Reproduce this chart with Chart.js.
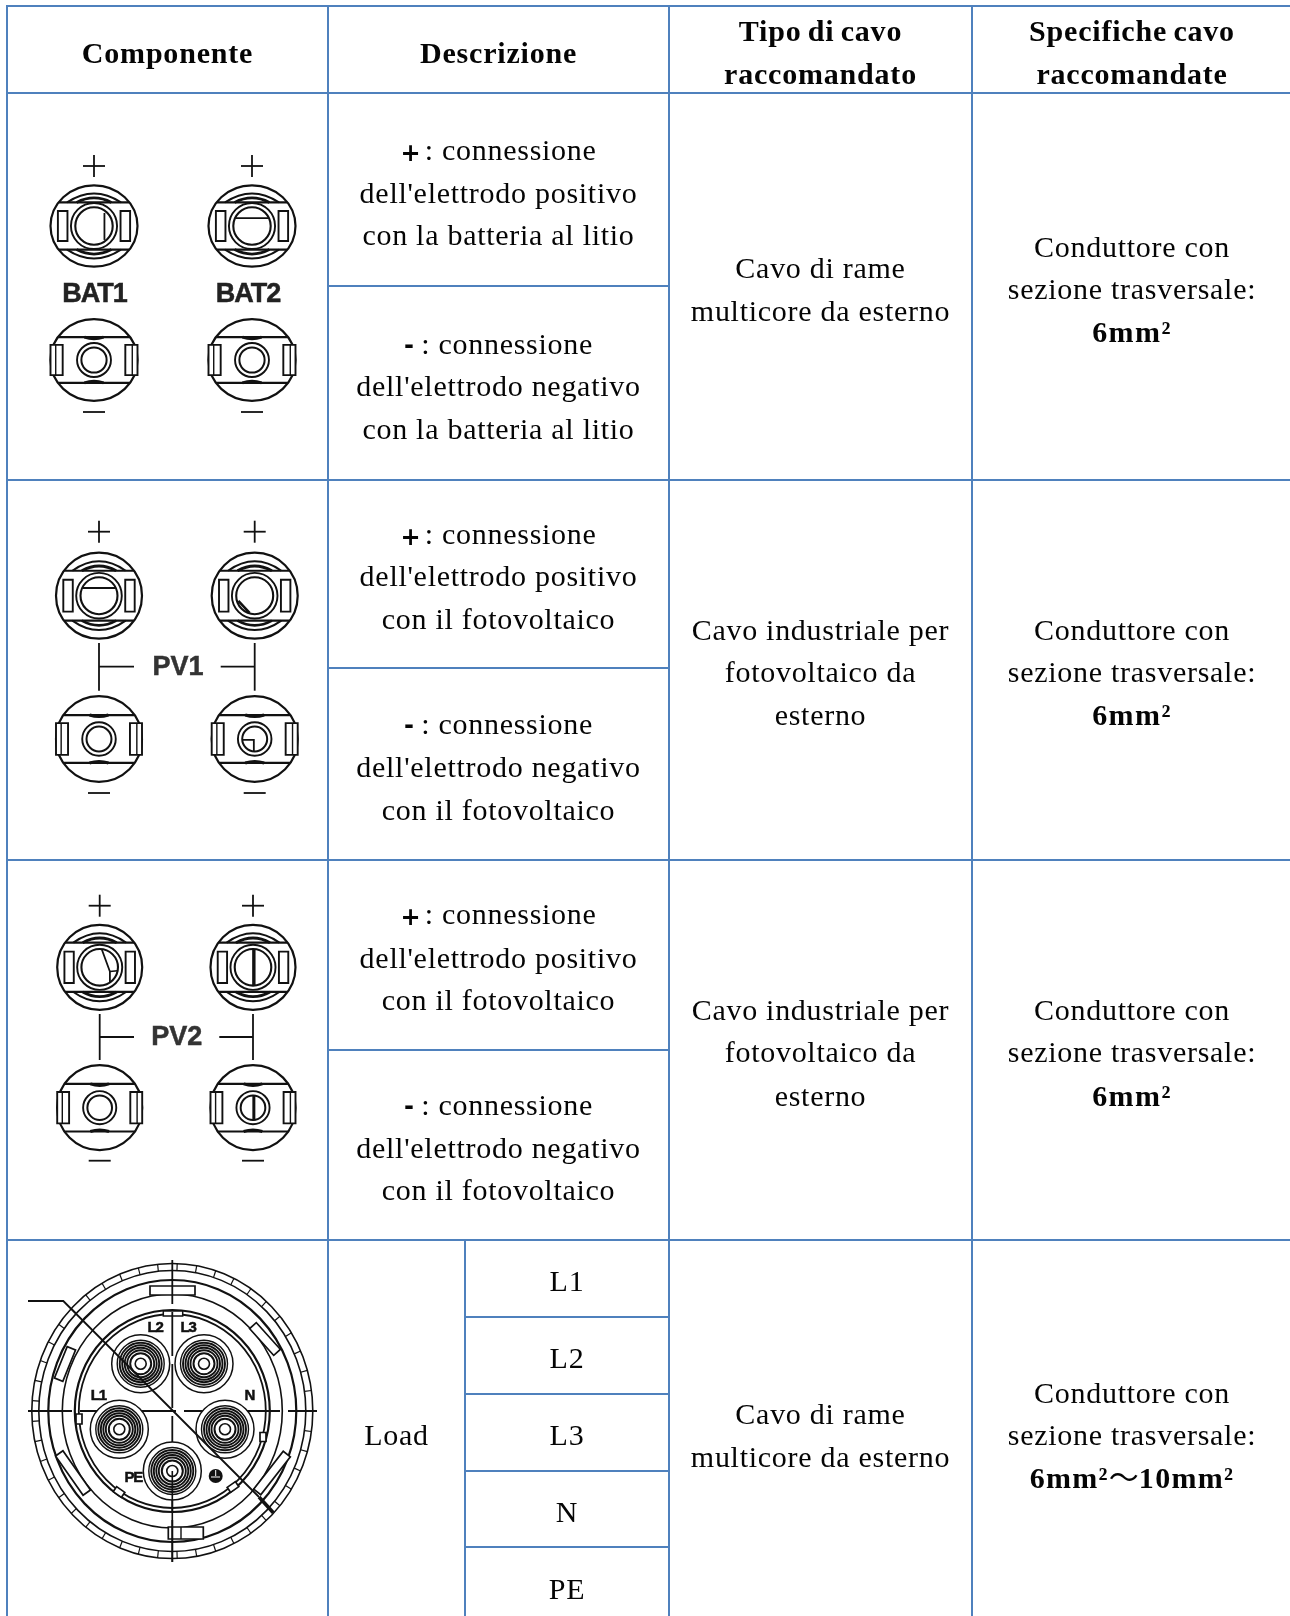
<!DOCTYPE html>
<html><head><meta charset="utf-8">
<style>html,body{margin:0;padding:0;background:#fff}canvas{display:block}</style>
<script src="https://cdn.jsdelivr.net/npm/chart.js@4/dist/chart.umd.min.js"></script>
</head><body><canvas id="c" width="1290" height="1616"></canvas>
<script>
// ---- table text ----
const headerComponente = ["Componente"];
const headerDescrizione = ["Descrizione"];
const headerTipo = ["Tipo di cavo", "raccomandato"];
const headerSpecifiche = ["Specifiche cavo", "raccomandate"];
const descBattery = ["connessione", "dell'elettrodo positivo", "con la batteria al litio", "dell'elettrodo negativo", "con la batteria al litio"];
const descPV = ["connessione", "dell'elettrodo positivo", "con il fotovoltaico", "dell'elettrodo negativo", "con il fotovoltaico"];
const cableCopper = ["Cavo di rame", "multicore da esterno"];
const cablePV = ["Cavo industriale per", "fotovoltaico da", "esterno"];
const specLines = ["Conduttore con", "sezione trasversale:"];
const loadLabel = ["Load"];
const loadPhases = ["L1", "L2", "L3", "N", "PE"];
const specSmall = ["6mm²"];
const specLarge = ["6mm²", "～", "10mm²"];
// ---- table grid, in table units ----
const colEdges = [7, 328, 669, 972];
const subColEdge = 465;
const tableRight = 1290, tableTop = 6, tableBottom = 1616;
const rowEdges = [6, 93, 480, 860, 1240];
const descSplits = [286, 668, 1050];
const phaseSplits = [1317, 1394, 1471, 1547];

const GRID = '#4f81bd';
const seg = (x0, y0, x1, y1) => ({
  data: [{x: x0, y: y0}, {x: x1, y: y1}], showLine: true, borderColor: GRID, borderWidth: 2,
  pointRadius: 0, tension: 0, fill: false, borderCapStyle: 'square', clip: false
});
const datasets = [
  ...colEdges.map(x => seg(x, tableTop, x, tableBottom)),
  seg(subColEdge, rowEdges[4], subColEdge, tableBottom),
  ...rowEdges.map(y => seg(colEdges[0], y, tableRight, y)),
  ...descSplits.map(y => seg(colEdges[1], y, colEdges[2], y)),
  ...phaseSplits.map(y => seg(subColEdge, y, colEdges[2], y))
];

const SERIF = '"Liberation Serif","Noto Sans CJK SC",serif';
const RFONT = '30px ' + SERIF, BFONT = 'bold 30px ' + SERIF;
const RS = 0.72, BS = 0.8, RW = -1.4, BW = -2;
const YOFF = 0.3;

const tablePlugin = {
  id: 'table',
  afterDatasetsDraw(chart) {
    const ctx = chart.ctx, sx = chart.scales.x, sy = chart.scales.y;
    const X = v => sx.getPixelForValue(v), Y = v => sy.getPixelForValue(v);

    function setup(p) {
      ctx.font = p.f || (p.b ? BFONT : RFONT);
      ctx.letterSpacing = (p.ls !== undefined ? p.ls : (p.b ? BS : RS)) + 'px';
      ctx.wordSpacing = (p.b ? BW : RW) + 'px';
    }
    function runs(parts, cx, base) {
      let total = 0;
      parts.forEach(p => { setup(p); p.w = ctx.measureText(p.t).width; total += p.w; });
      let x = X(cx) - total / 2;
      ctx.textAlign = 'left'; ctx.textBaseline = 'alphabetic'; ctx.fillStyle = '#050505';
      parts.forEach(p => {
        setup(p);
        ctx.fillText(p.t, x, Y(base + YOFF + (p.dy || 0))); x += p.w;
      });
      ctx.letterSpacing = '0px'; ctx.wordSpacing = '0px';
    }
    const reg = (t, cx, b) => runs([{t}], cx, b);
    const bold = (t, cx, b) => runs([{t, b: true}], cx, b);
    const SIGN = 'bold 24px "DejaVu Sans"';

    const c0 = (colEdges[0] + colEdges[1]) / 2, c1 = (colEdges[1] + colEdges[2]) / 2,
          c2 = (colEdges[2] + colEdges[3]) / 2, c3 = (colEdges[3] + tableRight) / 2 + 1,
          cL = (colEdges[1] + subColEdge) / 2, cP = (subColEdge + colEdges[2]) / 2;

    bold(headerComponente[0], c0, 62.7);
    bold(headerDescrizione[0], c1, 62.7);
    bold(headerTipo[0], c2, 40.7); bold(headerTipo[1], c2, 83.3);
    bold(headerSpecifiche[0], c3, 40.7); bold(headerSpecifiche[1], c3, 83.3);

    function desc(lines, b) {
      runs([{t: '+', f: SIGN, ls: -4, dy: 1}, {t: ' : ' + lines[0]}], c1, b[0]);
      reg(lines[1], c1, b[1]); reg(lines[2], c1, b[2]);
      runs([{t: '-', f: SIGN, ls: -1, dy: -1}, {t: ' : ' + lines[0]}], c1, b[3]);
      reg(lines[3], c1, b[4]); reg(lines[4], c1, b[5]);
    }
    desc(descBattery, [160, 202.3, 245, 353.3, 395.7, 438.3]);
    desc(descPV, [543.3, 586, 628.3, 734, 776.7, 819.3]);
    desc(descPV, [924, 967.3, 1010, 1115, 1157.3, 1200]);

    reg(cableCopper[0], c2, 277.7); reg(cableCopper[1], c2, 320.7);
    cablePV.forEach((t, i) => reg(t, c2, [639.3, 682, 724.3][i]));
    cablePV.forEach((t, i) => reg(t, c2, [1019.3, 1062, 1106][i]));
    reg(cableCopper[0], c2, 1424); reg(cableCopper[1], c2, 1466.7);

    [[256.7, 298.3, 341.7], [639.3, 682, 724.3], [1019.3, 1062, 1105.3]].forEach(b => {
      reg(specLines[0], c3, b[0]); reg(specLines[1], c3, b[1]);
      runs([{t: specSmall[0], b: true, ls: 1.4}], c3, b[2]);
    });
    reg(specLines[0], c3, 1402.3); reg(specLines[1], c3, 1445);
    runs([{t: specLarge[0], b: true, ls: 1.3}, {t: specLarge[1], ls: 0}, {t: specLarge[2], b: true, ls: 1.3}], c3, 1487.7);

    reg(loadLabel[0], cL, 1444.3);
    loadPhases.forEach((t, i) => reg(t, cP, [1290.7, 1367.7, 1444.3, 1521.7, 1598.3][i]));

    // ---- connector drawings ----
    ctx.save();
    ctx.filter = 'blur(0.6px)';
    ctx.strokeStyle = '#111'; ctx.fillStyle = '#111'; ctx.lineCap = 'butt';
    const line = (pts, w = 1.8) => {
      ctx.lineWidth = w; ctx.beginPath();
      pts.forEach((p, i) => i ? ctx.lineTo(X(p[0]), Y(p[1])) : ctx.moveTo(X(p[0]), Y(p[1])));
      ctx.stroke();
    };
    const ell = (cx, cy, rx, ry, w = 1.8) => {
      ctx.lineWidth = w; ctx.beginPath(); ctx.ellipse(X(cx), Y(cy), rx, ry, 0, 0, Math.PI * 2); ctx.stroke();
    };
    const quad = (x0, y0, qx, qy, x1, y1, w = 1.8) => {
      ctx.lineWidth = w; ctx.beginPath(); ctx.moveTo(X(x0), Y(y0));
      ctx.quadraticCurveTo(X(qx), Y(qy), X(x1), Y(y1)); ctx.stroke();
    };
    const rect = (x0, y0, x1, y1, w = 1.8, white = false) => {
      ctx.lineWidth = w; ctx.beginPath(); ctx.rect(X(x0), Y(y0), x1 - x0, y1 - y0);
      if (white) { ctx.save(); ctx.fillStyle = '#fff'; ctx.fill(); ctx.restore(); }
      ctx.stroke();
    };
    const sign = (x, y, h, plus) => {
      line([[x - h, y], [x + h, y]], 1.8);
      if (plus) line([[x, y - h], [x, y + h]], 1.8);
    };
    const lab = (t, x, y, font, col = '#222', ls = 0) => {
      ctx.save(); ctx.font = font; ctx.fillStyle = col; ctx.strokeStyle = col; ctx.lineWidth = 0.5;
      ctx.letterSpacing = ls + 'px'; ctx.textAlign = 'center'; ctx.textBaseline = 'middle';
      ctx.fillText(t, X(x), Y(y)); ctx.strokeText(t, X(x), Y(y)); ctx.restore();
    };

    function positive(cx, cy, rx, ry, key) {
      ell(cx, cy, rx, ry, 2.2);
      [-1, 1].forEach(s => {
        const d = 0.58 * ry * s;
        line([[cx - .81 * rx, cy + d], [cx + .81 * rx, cy + d]], 2.2);
        quad(cx - .62 * rx, cy + d, cx, cy + 1.02 * ry * s, cx + .62 * rx, cy + d, 2);
        quad(cx - .40 * rx, cy + d, cx, cy + .80 * ry * s, cx + .40 * rx, cy + d, 2.8);
        rect(cx + s * .72 * rx - .11 * rx, cy - .37 * ry, cx + s * .72 * rx + .11 * rx, cy + .37 * ry, 1.9, true);
      });
      const r1 = .53 * rx, r2 = .43 * rx;
      ctx.save(); ctx.fillStyle = '#fff'; ctx.beginPath(); ctx.arc(X(cx), Y(cy), r1, 0, 7); ctx.fill(); ctx.restore();
      ell(cx, cy, r1, r1, 1.9); ell(cx, cy, r2, r2, 2.1);
      const k = rx;
      if (key === 'v') line([[cx + .24 * k, cy - .30 * k], [cx + .24 * k, cy + .32 * k]], 1.8);
      if (key === 'h') line([[cx - .38 * k, cy - .18 * k], [cx + .38 * k, cy - .18 * k]], 1.9);
      if (key === 'd') line([[cx - .38 * k, cy + .12 * k], [cx - .12 * k, cy + .40 * k]], 2.6);
      if (key === 'a') {
        line([[cx + .05 * k, cy - .42 * k], [cx + .24 * k, cy + .10 * k], [cx + .24 * k, cy + .36 * k]], 1.8);
        line([[cx + .24 * k, cy + .10 * k], [cx + .42 * k, cy + .08 * k]], 1.6);
      }
      if (key === 'b') line([[cx + .02 * k, cy - .43 * k], [cx + .02 * k, cy + .43 * k]], 3.4);
    }
    function negative(cx, cy, rx, ry, key) {
      ell(cx, cy, rx, ry, 2.2);
      [-1, 1].forEach(s => {
        const d = .56 * ry * s;
        line([[cx - .83 * rx, cy + d], [cx + .83 * rx, cy + d]], 2.2);
        quad(cx - .22 * rx, cy + d, cx, cy + d - s * 3, cx + .22 * rx, cy + d, 3);
        const x0 = s < 0 ? cx - 1.0 * rx : cx + .72 * rx;
        rect(x0, cy - .37 * ry, x0 + .28 * rx, cy + .37 * ry, 1.9, true);
        const xi = s < 0 ? cx - .88 * rx : cx + .88 * rx;
        line([[xi, cy - .37 * ry], [xi, cy + .37 * ry]], 1.4);
      });
      const r1 = .39 * rx, r2 = .29 * rx;
      ell(cx, cy, r1, r1, 1.9); ell(cx, cy, r2, r2, 2);
      const k = rx;
      if (key === 'c') {
        line([[cx - .29 * k, cy + .02 * k], [cx - .02 * k, cy + .02 * k], [cx - .02 * k, cy + .28 * k]], 1.8);
      }
      if (key === 'b') line([[cx + .02 * k, cy - .3 * k], [cx + .02 * k, cy + .3 * k]], 3);
    }

    const BIG = 'bold 27px "Liberation Sans"';
    // BAT block
    [[94, 'v'], [252, 'h']].forEach(([x, key]) => {
      sign(x, 166, 11, true); positive(x, 226, 43.5, 40.7, key);
      negative(x, 360, 43.5, 40.8, null); sign(x, 412, 11, false);
    });
    lab('BAT1', 94.5, 295, BIG, '#222', -1);
    lab('BAT2', 248, 295, BIG, '#222', -1);

    // PV1 block
    [[99, 'h', null], [254.7, 'd', 'c']].forEach(([x, kp, kn]) => {
      sign(x, 531.7, 11, true); positive(x, 595.7, 43, 43, kp);
      negative(x, 739, 43, 42.8, kn); sign(x, 793, 11, false);
      line([[x, 643], [x, 690.7]], 1.8);
    });
    line([[99, 666.7], [134, 666.7]], 1.8); line([[220.7, 666.7], [254.7, 666.7]], 1.8);
    lab('PV1', 178, 668, BIG, '#333', 0);

    // PV2 block
    [[99.7, 'a', null], [253, 'b', 'b']].forEach(([x, kp, kn]) => {
      sign(x, 905.7, 11, true); positive(x, 967.3, 42.5, 42.5, kp);
      negative(x, 1107.7, 42.5, 42.5, kn); sign(x, 1160.7, 11, false);
      line([[x, 1014], [x, 1060]], 1.8);
    });
    line([[99.7, 1037], [134, 1037]], 1.8); line([[219.3, 1037], [253, 1037]], 1.8);
    lab('PV2', 176.7, 1038, BIG, '#333', 0);

    // Load round connector
    ctx.filter = 'blur(0.6px)';
    const cx = 172.3, cy = 1411, rxOut = 140.5, ryOut = 147.5;
    ell(cx, cy, rxOut, ryOut, 1.6);
    ell(cx, cy, rxOut - 7, ryOut - 7, 1.6);
    for (let a = 0; a < 360; a += 8) {
      const t = a * Math.PI / 180, c = Math.cos(t), s = Math.sin(t);
      line([[cx + c * rxOut, cy + s * ryOut], [cx + c * (rxOut - 7), cy + s * (ryOut - 7)]], 1.2);
    }
    ell(cx, cy, 124, 131, 2.2);
    ell(cx, cy, 110, 117, 1.6);
    ell(cx, cy, 97.5, 101, 2.2);
    ell(cx, cy, 93.5, 97, 1.8);
    // slots and notches
    rect(150, 1286, 195, 1295, 1.7, true);
    rect(163.3, 1311, 182.7, 1316, 1.5, true);
    rect(168.3, 1527, 203.3, 1539, 1.7, true);
    line([[181, 1527], [181, 1539]], 1.4);
    const slot = (x, y, len, wid, deg) => {
      ctx.save(); ctx.translate(X(x), Y(y)); ctx.rotate(deg * Math.PI / 180);
      ctx.lineWidth = 1.7; ctx.fillStyle = '#fff'; ctx.beginPath();
      ctx.rect(-len / 2, -wid / 2, len, wid); ctx.fill(); ctx.stroke(); ctx.restore();
    };
    slot(65, 1364, 34, 9, -68); slot(265, 1339, 36, 9, 48);
    slot(73, 1473, 48, 9, 55); slot(272, 1473, 48, 9, -52);
    slot(79, 1419, 10, 6, 90); slot(263, 1437, 9, 6, 90);
    slot(119, 1492, 10, 6, 35); slot(233, 1487, 10, 6, -35);
    // axes
    ctx.save(); ctx.setLineDash([44, 8]);
    line([[28, 1411], [317, 1411]], 1.8);
    line([[172.3, 1260], [172.3, 1562]], 1.8);
    ctx.restore();
    // pins
    [[140.7, 1363.7], [204, 1363.7], [119.3, 1429.3], [225, 1429.3], [172.3, 1471]].forEach(([x, y]) => {
      ctx.save(); ctx.fillStyle = '#fff'; ctx.beginPath(); ctx.arc(X(x), Y(y), 29, 0, 7); ctx.fill(); ctx.restore();
      ell(x, y, 29, 29, 1.5); ell(x, y, 23.5, 23.5, 1.4);
      [21, 18.5, 16, 13.5].forEach(r => ell(x, y, r, r, 1.9));
      ell(x, y, 10.5, 10.5, 2);
      ell(x, y, 5.5, 5.5, 1.6);
    });
    line([[172.3, 1471], [172.3, 1562]], 1.6);
    [['L2', 155, 1328], ['L3', 188, 1328], ['L1', 98.3, 1396], ['N', 249.3, 1396], ['PE', 133.3, 1478]]
      .forEach(([t, x, y]) => lab(t, x, y, 'bold 15px "Liberation Sans"', '#111', -1.2));
    ctx.beginPath(); ctx.arc(X(215.7), Y(1476), 7, 0, 7); ctx.fill();
    ctx.save(); ctx.strokeStyle = '#fff'; line([[215.7, 1470], [215.7, 1476]], 1); line([[211, 1477], [220, 1477]], 1); ctx.restore();
    // leader
    line([[28, 1301], [63.3, 1301], [259, 1497]], 1.8);
    line([[259, 1497], [273.3, 1512.7]], 3.6);
    ctx.restore();
  }
};

new Chart(document.getElementById('c'), {
  type: 'scatter',
  data: {datasets},
  options: {
    responsive: false, animation: false, events: [],
    layout: {padding: 0},
    plugins: {legend: {display: false}, tooltip: {enabled: false}, title: {display: false}},
    scales: {
      x: {type: 'linear', min: 0, max: 1290, display: false},
      y: {type: 'linear', min: 0, max: 1616, reverse: true, display: false}
    }
  },
  plugins: [tablePlugin]
});
</script></body></html>
